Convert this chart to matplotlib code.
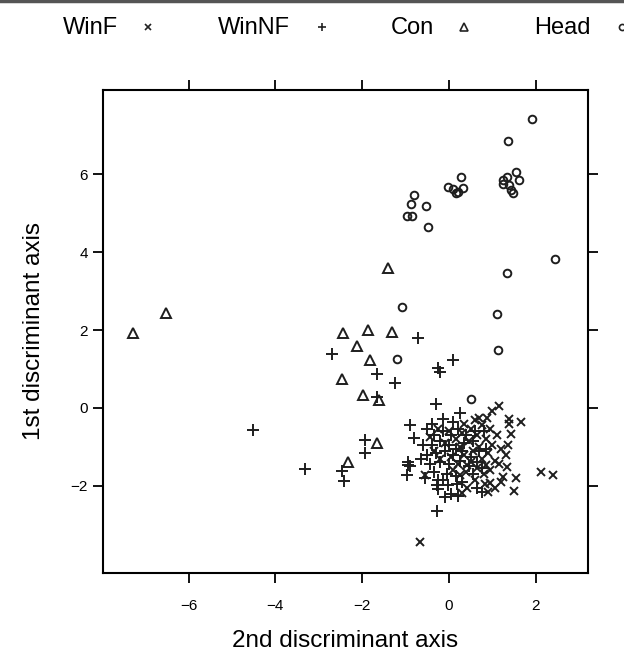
import numpy as np
import matplotlib
matplotlib.use("Agg")
import matplotlib.pyplot as plt
from matplotlib.lines import Line2D

plt.rcParams['font.family'] = ['Liberation Sans', 'DejaVu Sans']

# (2nd discriminant axis, 1st discriminant axis)
winf_x = [1.15, 0.98, 0.87, 1.39, 1.66, 1.39, 1.43, 2.12, 2.39, 1.54, 1.50, 1.25,
          1.33, 0.85, 0.83, 0.95, 1.06, 0.90, 0.29, 0.41, 0.25, 0.41, -0.55, -0.67,
          0.60, 0.75, 0.50, 0.95, 1.10, 0.30, 0.65, 0.85, 0.15, 0.45, 1.00, 0.70,
          0.25, -0.10, 0.55, 0.90, 1.20, 0.35, 0.05, 0.75, 1.05, 0.50, 0.20, -0.20,
          0.65, 0.95, 1.15, 0.40, 0.10, -0.35, -0.45, 0.80, 0.60, 1.30, 1.35, 0.00,
          -0.25, 0.35, 0.70, 1.20]
winf_y = [0.06, -0.08, -0.27, -0.29, -0.37, -0.42, -0.68, -1.64, -1.71, -1.79, -2.13, -1.77,
          -1.51, -1.47, -1.95, -1.93, -2.05, -2.16, -2.19, -2.06, -1.72, -1.47, -1.72, -3.44,
          -0.30, -0.45, -0.55, -0.55, -0.70, -0.65, -0.70, -0.80, -0.80, -0.85, -0.95, -1.00,
          -1.00, -0.90, -1.10, -1.15, -1.05, -1.20, -1.25, -1.30, -1.35, -1.40, -1.45, -1.30,
          -1.55, -1.60, -1.45, -1.65, -1.60, -1.10, -0.75, -1.70, -1.85, -1.20, -0.95, -0.60,
          -0.55, -0.40, -0.25, -1.90]

winnf_x = [-4.52, -3.32, -2.47, -2.41, -1.94, -1.94, -0.72, -2.70, -1.67, -1.24, -1.67,
           -0.21, -0.25, 0.09, -0.30, 0.25, -0.90, -0.80, -0.13, -0.94, -0.97, -0.94,
           -0.25, -0.13, -0.02, 0.18, -0.28, -0.28, -0.90,
           -0.50, -0.35, -0.15, 0.05, 0.20, -0.60, -0.40, -0.20, 0.00, 0.15, 0.35, 0.55,
           -0.50, -0.30, -0.10, 0.10, 0.30, 0.50, 0.70, -0.45, -0.20, 0.00, 0.25, 0.45,
           0.65, -0.35, -0.05, 0.15, 0.55, 0.80, 0.60, -0.65, 0.40, 0.85, -0.25, 0.30,
           0.10, -0.40, 0.75, -0.55, 0.05, -0.10, 0.20, 0.65, 0.75]
winnf_y = [-0.57, -1.56, -1.62, -1.87, -0.82, -1.16, 1.79, 1.39, 0.87, 0.65, 0.29,
           0.93, 1.03, 1.23, 0.10, -0.12, -0.44, -0.76, -0.29, -1.40, -1.72, -1.47,
           -2.09, -1.85, -1.98, -1.95, -1.98, -2.64, -1.50,
           -0.55, -0.70, -0.60, -0.70, -0.55, -0.95, -0.95, -0.85, -0.95, -1.05, -0.90, -0.85,
           -1.20, -1.15, -1.10, -1.20, -1.10, -1.25, -1.10, -1.45, -1.40, -1.45, -1.35, -1.50,
           -1.40, -1.65, -1.70, -1.75, -1.70, -0.60, -0.60, -1.30, -0.70, -1.05, -1.85, -1.90,
           -0.35, -0.40, -1.55, -1.80, -2.20, -2.30, -2.25, -2.05, -2.15]

con_x = [-7.28, -6.52, -1.41, -2.44, -1.86, -1.32, -2.13, -1.82, -2.47, -1.99, -1.61, -1.67, -2.32]
con_y = [1.93, 2.44, 3.60, 1.92, 2.01, 1.96, 1.58, 1.23, 0.74, 0.33, 0.21, -0.91, -1.38]

head_x = [1.91, 1.35, 1.55, 1.61, 1.34, 1.25, 1.24, 1.38, 1.43, 1.48, 0.28, 0.31, -0.02,
          0.10, 0.16, 0.21, -0.81, -0.88, -0.53, -0.97, -0.85, -0.48, 2.45, 1.33, -1.09,
          1.11, 1.13, -1.21, 0.50]
head_y = [7.42, 6.85, 6.06, 5.86, 5.93, 5.86, 5.76, 5.73, 5.59, 5.52, 5.93, 5.65, 5.69,
          5.62, 5.52, 5.54, 5.48, 5.23, 5.19, 4.94, 4.92, 4.65, 3.82, 3.46, 2.60,
          2.42, 1.49, 1.27, 0.23]

x_ticks = [-6, -4, -2, 0, 2]
y_ticks = [-2, 0, 2, 4, 6]

groups = [
    ("WinF", winf_x, winf_y, "x", 6.0),
    ("WinNF", winnf_x, winnf_y, "+", 8.0),
    ("Con", con_x, con_y, "^", 6.5),
    ("Head", head_x, head_y, "o", 5.5),
]

fig = plt.figure(figsize=(6.24, 6.57), dpi=100)
ax = fig.add_axes([103 / 624, 1 - 573 / 657, 485 / 624, 483 / 657])

for nome, xs, ys, mk, ms in groups:
    ax.plot(xs, ys, linestyle="none", marker=mk, markersize=ms,
            markerfacecolor="none", markeredgecolor="#1e1e1e", markeredgewidth=1.4)

ax.set_xlim(-7.97, 3.2)
ax.set_ylim(-4.24, 8.17)
ax.set_xticks(x_ticks)
ax.set_yticks(y_ticks)
ax.tick_params(direction="out", length=7, width=1.3, labelsize=11,
               top=True, right=True, labeltop=False, labelright=False)
ax.tick_params(axis="x", pad=12)
ax.tick_params(axis="y", pad=4)
for s in ax.spines.values():
    s.set_linewidth(1.5)
ax.set_xlabel("2nd discriminant axis", fontsize=17.5, labelpad=12)
ax.set_ylabel("1st discriminant axis", fontsize=17.5, labelpad=18)

# legend on top, text then symbol
leg_text_x = [90, 254, 412, 562]
leg_mark_x = [148, 322, 464, 622]
for (nome, xs, ys, mk, ms), tx, mx in zip(groups, leg_text_x, leg_mark_x):
    fig.text(tx / 624, 1 - 28 / 657, nome, fontsize=17, ha="center", va="center")
    fig.add_artist(Line2D([mx / 624], [1 - 27 / 657], marker=mk, markersize=ms * 0.8,
                          markerfacecolor="none", markeredgecolor="#222222",
                          markeredgewidth=1.2, linestyle="none"))

fig.add_artist(Line2D([0, 1], [1 - 1 / 657, 1 - 1 / 657], color="#555555", linewidth=2.5))

fig.savefig("out.png", dpi=100)
